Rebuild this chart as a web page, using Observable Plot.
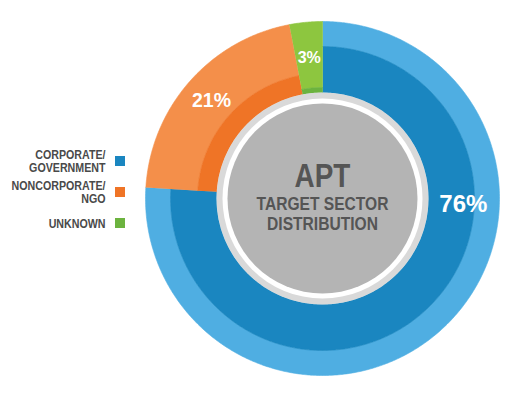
<!DOCTYPE html>
<html><head><meta charset="utf-8">
<script src="https://cdn.jsdelivr.net/npm/d3@7"></script>
<script src="https://cdn.jsdelivr.net/npm/@observablehq/plot@0.6"></script>
<style>
html,body{margin:0;padding:0;background:#fff;}
#chart{width:508px;height:394px;}
</style></head><body><div id="chart"></div>
<script>
// ---- data ----
const categories = ["CORPORATE/\nGOVERNMENT", "NONCORPORATE/\nNGO", "UNKNOWN"];
const values = [76, 21, 3];
const valueLabels = ["76%", "21%", "3%"];
const lightColors = ["#4faee2", "#f48f4a", "#8dc63f"];
const darkColors = ["#1a86c0", "#ef7426", "#6cb33f"];
const centerTitle = ["APT"];
const centerSubtitle = ["TARGET SECTOR", "DISTRIBUTION"];

// ---- layout ----
const W = 508, H = 394, cx = 322, cy = 198, R = 177, rInner = 106;
const darkOuter = [152, 125, 111];
const labelR = [141, 148, 141];
const labelSize = [24, 19.5, 16];
const font = "'Liberation Sans', Arial, sans-serif";

const arcs = d3.pie().sort(null)(values);

function ring(a0, a1, ri, ro, id, fill) {
  const pts = [];
  const n = Math.max(2, Math.ceil((a1 - a0) / (Math.PI / 360)));
  for (let k = 0; k <= n; k++) { const a = a0 + (a1 - a0) * k / n; pts.push({x: cx + ro * Math.sin(a), y: cy - ro * Math.cos(a), id, fill}); }
  for (let k = n; k >= 0; k--) { const a = a0 + (a1 - a0) * k / n; pts.push({x: cx + ri * Math.sin(a), y: cy - ri * Math.cos(a), id, fill}); }
  return pts;
}

const pieces = [];
arcs.forEach((a, i) => {
  pieces.push(...ring(a.startAngle, a.endAngle, darkOuter[i], R, "L" + i, lightColors[i]));
  pieces.push(...ring(a.startAngle, a.endAngle, rInner, darkOuter[i], "D" + i, darkColors[i]));
});

const labels = arcs.map((a, i) => {
  const ang = i === 0 ? Math.PI / 2 + 0.04 : (a.startAngle + a.endAngle) / 2;
  return {x: cx + labelR[i] * Math.sin(ang), y: cy - labelR[i] * Math.cos(ang), text: valueLabels[i], size: labelSize[i]};
});

const legendTop = 161, legendStep = 31, legendTextX = 105, legendSq = 10;
const legend = categories.map((c, i) => ({text: c, y: legendTop + i * legendStep, color: darkColors[i]}));

const chart = Plot.plot({
  width: W, height: H, margin: 0,
  x: {domain: [0, W], axis: null},
  y: {domain: [0, H], axis: null, reverse: true},
  color: {type: "identity"},
  marks: [
    Plot.line(pieces, {x: "x", y: "y", z: "id", fill: "fill", stroke: "fill", strokeWidth: 0.6}),
    Plot.dot([0], {x: () => cx, y: () => cy, r: rInner, fill: "#d9d9d9", stroke: "none"}),
    Plot.dot([0], {x: () => cx, y: () => cy, r: 100, fill: "#ffffff", stroke: "none"}),
    Plot.dot([0], {x: () => cx, y: () => cy, r: 95, fill: "#b4b4b4", stroke: "none"}),
    Plot.text(labels, {x: "x", y: "y", text: "text", fontSize: "size", fill: "white", fontWeight: "bold", fontFamily: font}),
    Plot.text(centerTitle, {x: () => cx, y: () => 176, text: d => d, fontSize: 34, fill: "#555555", fontWeight: "bold", fontFamily: font, className: "narrow"}),
    Plot.text(centerSubtitle, {x: () => cx, y: (d, i) => 203 + i * 20, text: d => d, fontSize: 19, fill: "#555555", fontWeight: "bold", fontFamily: font, className: "narrow"}),
    Plot.text(legend, {x: () => legendTextX, y: "y", text: "text", textAnchor: "end", lineAnchor: "middle", lineHeight: 1, fontSize: 13, fill: "#4a4a4a", fontWeight: "bold", fontFamily: font, className: "narrow"}),
    Plot.rect(legend, {x1: () => legendTextX + 10, x2: () => legendTextX + 10 + legendSq, y1: d => d.y - legendSq / 2, y2: d => d.y + legendSq / 2, fill: "color"})
  ]
});
document.getElementById("chart").appendChild(chart);

// emulate a condensed typeface by squeezing glyphs horizontally
d3.select(chart).selectAll(".narrow text").each(function() {
  const spans = this.querySelectorAll("tspan");
  const els = spans.length ? Array.from(spans) : [this];
  els.forEach(el => {
    const w = el.getComputedTextLength();
    el.setAttribute("textLength", (w * 0.82).toFixed(2));
    el.setAttribute("lengthAdjust", "spacingAndGlyphs");
  });
});
</script>
</body></html>
